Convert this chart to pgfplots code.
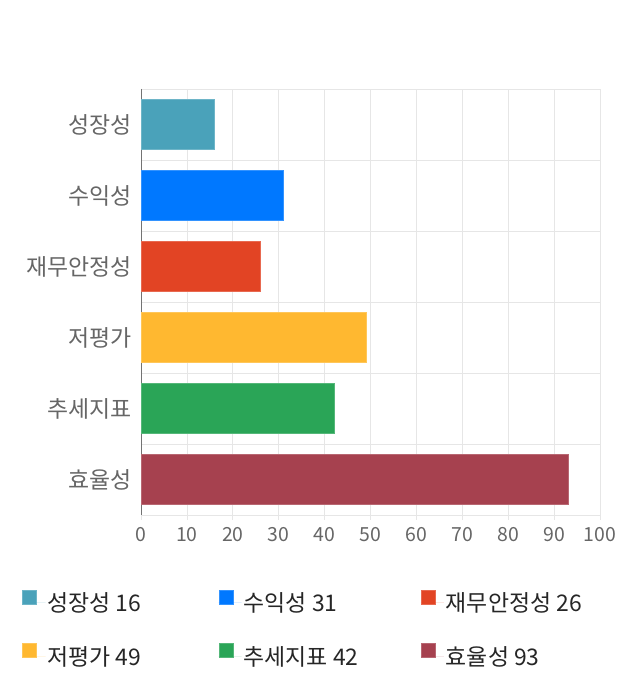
\documentclass[border=0pt]{standalone}
\usepackage{fontspec}
\setmainfont{Noto Sans CJK KR}
\usepackage{pgfplots}
\pgfplotsset{compat=1.18}

\definecolor{cGrowth}{HTML}{4AA2BA}
\definecolor{cProfit}{HTML}{0078FF}
\definecolor{cStable}{HTML}{E24424}
\definecolor{cValue}{HTML}{FFB830}
\definecolor{cTrend}{HTML}{2AA557}
\definecolor{cEffic}{HTML}{A6414F}
\definecolor{gridc}{HTML}{E6E6E6}
\definecolor{labc}{HTML}{666666}

\begin{document}
\begin{tikzpicture}[x=1bp,y=1bp]
\path (0,0) rectangle (640,700);
\begin{axis}[
    at={(141bp,185bp)}, anchor=south west,
    scale only axis, width=459bp, height=426bp,
    xbar, bar width=50bp, bar shift=0pt,
    xmin=0, xmax=100,
    ymin=-0.5, ymax=5.5, y dir=reverse,
    xtick={0,10,...,100},
    ytick={0,1,2,3,4,5},
    yticklabels={성장성,수익성,재무안정성,저평가,추세지표,효율성},
    minor ytick={-0.5,0.5,1.5,2.5,3.5,4.5,5.5},
    xmajorgrids, yminorgrids,
    grid style={gridc, line width=0.8bp},
    minor grid style={gridc, line width=0.8bp},
    tick align=outside,
    major tick length=5bp, minor tick length=11bp,
    xtick style={gridc, line width=0.8bp},
    ytick style={draw=none},
    minor y tick style={gridc, line width=0.8bp},
    separate axis lines,
    axis x line*=bottom, axis y line*=left,
    x axis line style={draw=none},
    y axis line style={draw=black!55, line width=0.8bp},
    /pgf/number format/assume math mode=true,
    xticklabel style={font=\fontsize{19.5}{22}\selectfont, text=labc, yshift=-4bp},
    yticklabel style={font=\fontsize{23}{26}\selectfont, text=labc, xshift=-1bp},
    legend columns=3,
    legend cell align=left,
    legend style={draw=none, fill=none,
        at={(-0.259,-0.175)}, anchor=north west,
        font=\fontsize{23}{26}\selectfont, text=black!85,
        /tikz/every even column/.append style={column sep=0bp},
        row sep=28bp, inner sep=0pt},
    legend image code/.code={\fill[#1] (0bp,-1bp) rectangle (14bp,13bp); \path[draw=none] (0bp,0bp) -- (23bp,0bp);},
]
\addplot[fill=cGrowth, draw=cGrowth!80!white] coordinates {(16,0)};
\addplot[fill=cProfit, draw=cProfit!80!white] coordinates {(31,1)};
\addplot[fill=cStable, draw=cStable!80!white] coordinates {(26,2)};
\addplot[fill=cValue, draw=cValue!80!white] coordinates {(49,3)};
\addplot[fill=cTrend, draw=cTrend!80!white] coordinates {(42,4)};
\addplot[fill=cEffic, draw=cEffic!80!white] coordinates {(93,5)};
\legend{\makebox[169bp][l]{성장성 16},\makebox[175bp][l]{수익성 31},\makebox[150bp][l]{재무안정성 26},
        \makebox[169bp][l]{저평가 49},\makebox[175bp][l]{추세지표 42},\makebox[150bp][l]{효율성 93}}
\end{axis}
\end{tikzpicture}
\end{document}
